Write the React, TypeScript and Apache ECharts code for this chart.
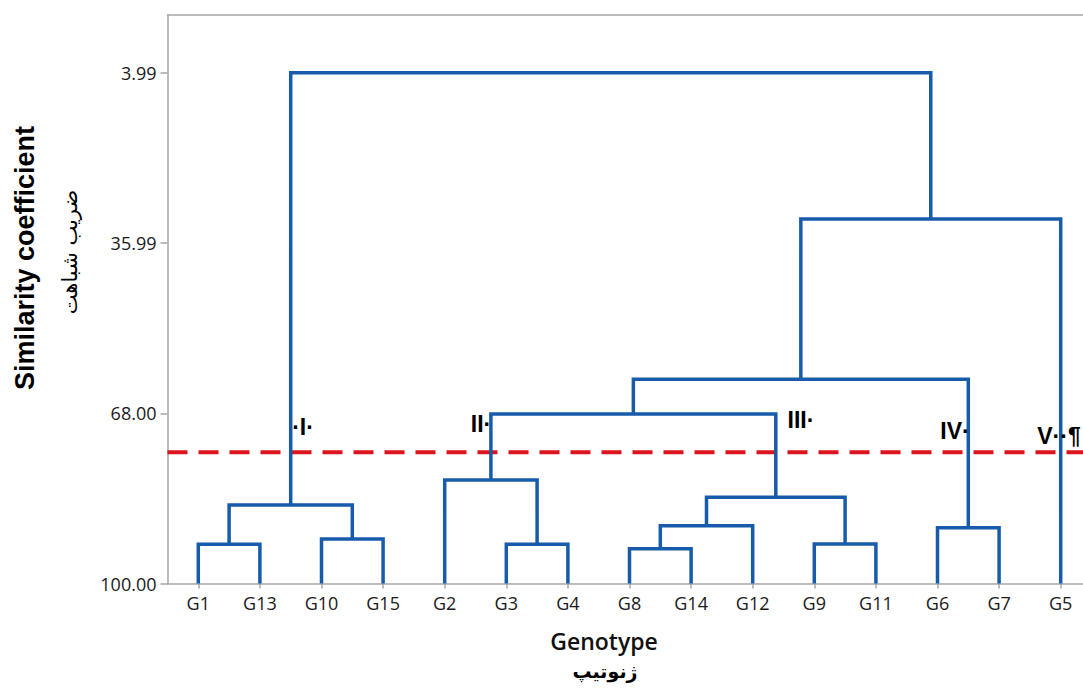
import React, { useEffect, useRef } from "react";
import * as echarts from "echarts";

// Leaf order along the x axis
const leaves = ["G1", "G13", "G10", "G15", "G2", "G3", "G4", "G8", "G14", "G12", "G9", "G11", "G6", "G7", "G5"];
// Linkage: node ids 0..14 are leaves, merge k creates node 15+k
const mergeLeft = [0, 2, 15, 5, 4, 7, 20, 10, 21, 19, 12, 24, 26, 17];
const mergeRight = [1, 3, 16, 6, 18, 8, 9, 11, 22, 23, 13, 25, 14, 27];
const mergeHeight = [92.64, 91.64, 85.25, 92.64, 80.55, 93.46, 89.14, 92.58, 83.8, 68.14, 89.52, 61.62, 31.49, 3.99];
const yTicks = [3.99, 35.99, 68.0, 100.0];
const leafLevel = 100;
const cutLevel = 75.34;
const yAxisTop = -6.86;
const clusterLabels = ["·I·", "II·", "III·", "IV·", "V··¶"];

const BLUE = "#175bab";
const RED = "#dc141e";
const GRAY = "#a6a6a6";

function buildLinks() {
  const nx: number[] = leaves.map((_, i) => i);
  const nh: number[] = leaves.map(() => leafLevel);
  const links: { coords: number[][] }[] = [];
  for (let k = 0; k < mergeHeight.length; k++) {
    const l = mergeLeft[k];
    const r = mergeRight[k];
    const h = mergeHeight[k];
    const x = (nx[l] + nx[r]) / 2;
    links.push({
      coords: [
        [nx[l], nh[l]],
        [nx[l], h],
        [nx[r], h],
        [nx[r], nh[r]],
      ],
    });
    nx.push(x);
    nh.push(h);
  }
  return links;
}

export default function App() {
  const ref = useRef<HTMLDivElement>(null);
  useEffect(() => {
    if (!ref.current) return;
    const chart = echarts.init(ref.current, null, { renderer: "svg" });
    const links = buildLinks();
    const labelPos = [
      [303, 427],
      [481, 424],
      [801, 420],
      [955, 431],
      [1059, 436],
    ];
    const xRange = { min: -0.5, max: leaves.length - 0.5 };
    chart.setOption({
      animation: false,
      backgroundColor: "#ffffff",
      grid: {
        left: 167.5,
        top: 15,
        width: 924,
        height: 568.5,
        show: false,
        outerBoundsMode: "none",
        containLabel: false,
      },
      xAxis: [
        {
          type: "value",
          ...xRange,
          position: "bottom",
          splitLine: { show: false },
          axisLine: { show: true, onZero: false, lineStyle: { color: GRAY, width: 1.5 } },
          axisTick: {
            show: true,
            length: 5,
            lineStyle: { color: GRAY, width: 1.5 },
            customValues: leaves.map((_, i) => i),
          },
          axisLabel: {
            customValues: leaves.map((_, i) => i),
            formatter: (v: number) => leaves[Math.round(v)] ?? "",
            color: "#1a1a1a",
            fontSize: 18,
            fontFamily: "Open Sans",
            margin: 10,
          },
        },
        {
          type: "value",
          ...xRange,
          position: "top",
          splitLine: { show: false },
          axisLine: { show: true, onZero: false, lineStyle: { color: GRAY, width: 1.5 } },
          axisTick: { show: false },
          axisLabel: { show: false },
        },
      ],
      yAxis: {
        type: "value",
        inverse: true,
        min: yAxisTop,
        max: leafLevel,
        splitLine: { show: false },
        axisLine: { show: true, onZero: false, lineStyle: { color: GRAY, width: 1.5 } },
        axisTick: {
          show: true,
          length: 7,
          lineStyle: { color: GRAY, width: 1.5 },
          customValues: yTicks,
        },
        axisLabel: {
          customValues: yTicks,
          formatter: (v: number) => v.toFixed(2),
          color: "#1a1a1a",
          fontSize: 18,
          fontFamily: "Open Sans",
          margin: 11,
        },
      },
      series: [
        {
          type: "line",
          xAxisIndex: 0,
          data: [
            [xRange.min, cutLevel],
            [xRange.max, cutLevel],
          ],
          symbol: "none",
          silent: true,
          z: 1,
          lineStyle: { color: RED, width: 4, type: [20, 11] },
        },
        {
          type: "lines",
          coordinateSystem: "cartesian2d",
          xAxisIndex: 0,
          polyline: true,
          silent: true,
          z: 3,
          lineStyle: { color: BLUE, width: 3.5, opacity: 1, curveness: 0, join: "miter" },
          data: links,
        },
      ],
      graphic: [
        {
          type: "text",
          x: 25,
          y: 258,
          rotation: Math.PI / 2,
          style: {
            text: "Similarity coefficient",
            font: "bold 27px 'Liberation Sans', Arial, sans-serif",
            fill: "#000",
            align: "center",
            verticalAlign: "middle",
          },
        },
        {
          type: "text",
          x: 70,
          y: 252,
          rotation: Math.PI / 2,
          style: {
            text: "ضریب شباهت",
            font: "21px 'DejaVu Sans', sans-serif",
            fill: "#000",
            align: "center",
            verticalAlign: "middle",
          },
        },
        {
          type: "text",
          x: 604,
          y: 641,
          style: {
            text: "Genotype",
            font: "600 23px 'Open Sans', sans-serif",
            fill: "#111",
            align: "center",
            verticalAlign: "middle",
          },
        },
        {
          type: "text",
          x: 605,
          y: 671,
          style: {
            text: "ژنوتیپ",
            font: "bold 19px 'DejaVu Sans', sans-serif",
            fill: "#000",
            align: "center",
            verticalAlign: "middle",
          },
        },
        ...clusterLabels.map((t, i) => ({
          type: "text",
          x: labelPos[i][0],
          y: labelPos[i][1],
          z: 10,
          style: {
            text: t,
            font: "bold 23px 'Liberation Sans', Arial, sans-serif",
            fill: "#000",
            align: "center",
            verticalAlign: "middle",
          },
        })),
      ],
    });
    return () => chart.dispose();
  }, []);
  return (
    <div
      style={{ position: "fixed", left: 0, top: 0, width: 1083, height: 698, overflow: "hidden", background: "#fff" }}
    >
      <div ref={ref} style={{ width: 1110, height: 698 }} />
    </div>
  );
}
